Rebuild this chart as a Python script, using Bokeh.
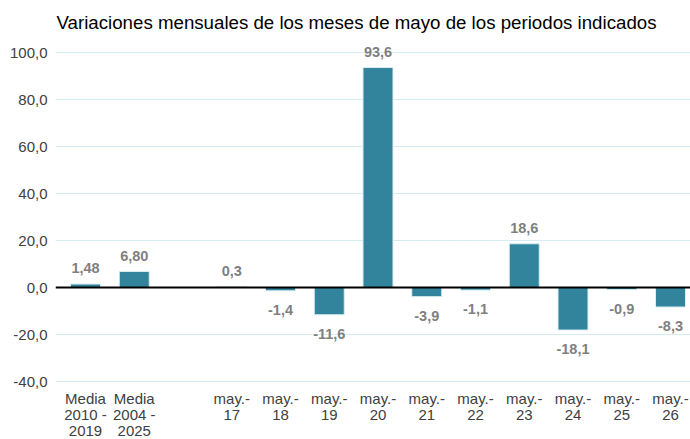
from bokeh.plotting import figure
from bokeh.models import ColumnDataSource, Range1d, FixedTicker, Span
from bokeh.core.properties import value
from bokeh.embed import file_html
from bokeh.resources import INLINE

subtitle = "Variaciones mensuales de los meses de mayo de los periodos indicados"
categories = ["Media\n2010 -\n2019", "Media\n2004 -\n2025", "",
              "may.-\n17", "may.-\n18", "may.-\n19", "may.-\n20", "may.-\n21",
              "may.-\n22", "may.-\n23", "may.-\n24", "may.-\n25", "may.-\n26"]
bar_categories = [c for c in categories if c != ""]
values = [1.48, 6.80, 0.3, -1.4, -11.6, 93.6, -3.9, -1.1, 18.6, -18.1, -0.9, -8.3]
value_labels = ["1,48", "6,80", "0,3", "-1,4", "-11,6", "93,6", "-3,9", "-1,1",
                "18,6", "-18,1", "-0,9", "-8,3"]
y_ticks = [-40, -20, 0, 20, 40, 60, 80, 100]
y_tick_labels = ["-40,0", "-20,0", "0,0", "20,0", "40,0", "60,0", "80,0", "100,0"]

FONT = "Liberation Sans"
W, H = 690, 439
FRAME_LEFT = 55            # px, width of the y-axis border
SLOT_PX = 48.75            # px per category slot
FIRST_CENTER_PX = 85       # px, centre of first slot
Y_MIN, Y_MAX = -40, 100
PX_PER_UNIT = 329 / (Y_MAX - Y_MIN)
Y_TOP = Y_MAX + 52 / PX_PER_UNIT
Y_BOTTOM = Y_MIN - (H - 381) / PX_PER_UNIT
X_START = -(FIRST_CENTER_PX - FRAME_LEFT) / SLOT_PX
X_END = X_START + (W - FRAME_LEFT) / SLOT_PX

idx = {c: i for i, c in enumerate(categories)}
bx = [idx[c] for c in bar_categories]

src = ColumnDataSource(dict(x=bx, top=values))
src_pos = ColumnDataSource(dict(
    x=[i for i, v in zip(bx, values) if v >= 0],
    y=[v for v in values if v >= 0],
    t=[l for l, v in zip(value_labels, values) if v >= 0]))
src_neg = ColumnDataSource(dict(
    x=[i for i, v in zip(bx, values) if v < 0],
    y=[v for v in values if v < 0],
    t=[l for l, v in zip(value_labels, values) if v < 0]))
src_cat = ColumnDataSource(dict(x=list(range(len(categories))),
                                y=[Y_MIN] * len(categories), t=categories))

p = figure(width=W, height=H, x_range=Range1d(X_START, X_END), y_range=Range1d(Y_BOTTOM, Y_TOP),
           output_backend="svg", toolbar_location=None, x_axis_location=None,
           min_border_left=FRAME_LEFT, min_border_right=0, min_border_top=0, min_border_bottom=0)
p.outline_line_color = None

# grid
p.xgrid.grid_line_color = None
p.ygrid.ticker = FixedTicker(ticks=[t for t in y_ticks if t != 0])
p.ygrid.grid_line_color = "#A8D8E8"
p.ygrid.grid_line_dash = "1 1"
p.ygrid.grid_line_width = 1

# bars
p.vbar(x="x", top="top", bottom=0, width=0.615, source=src,
       fill_color="#31849B", line_color="#DAEEF3", line_width=1)

p.add_layout(Span(location=0, dimension="width", line_color="#000000", line_width=2))

# value labels
p.text(x="x", y="y", text="t", source=src_pos, y_offset=-16,
       text_align="center", text_baseline="alphabetic",
       text_font=value(FONT), text_font_size="14.5px",
       text_font_style="bold", text_color="#7F7F7F")
p.text(x="x", y="y", text="t", source=src_neg, y_offset=19,
       text_align="center", text_baseline="alphabetic",
       text_font=value(FONT), text_font_size="14.5px",
       text_font_style="bold", text_color="#7F7F7F")

# category labels
p.text(x="x", y="y", text="t", source=src_cat, y_offset=8,
       text_align="center", text_baseline="top", text_line_height=0.95,
       text_font=value(FONT), text_font_size="15px", text_color="#404040")

# subtitle
p.text(x=[X_START + (356 - FRAME_LEFT) / SLOT_PX], y=[Y_TOP - 22 / PX_PER_UNIT], text=[subtitle],
       text_align="center", text_baseline="middle",
       text_font=value(FONT), text_font_size="18.7px", text_color="#000000")

# y axis
p.yaxis.ticker = FixedTicker(ticks=y_ticks)
p.yaxis.major_label_overrides = {t: l for t, l in zip(y_ticks, y_tick_labels)}
p.yaxis.axis_line_color = None
p.yaxis.major_tick_line_color = None
p.yaxis.minor_tick_line_color = None
p.yaxis.major_tick_out = 0
p.yaxis.major_tick_in = 0
p.yaxis.minor_tick_out = 0
p.yaxis.major_label_text_font = FONT
p.yaxis.major_label_text_font_size = "15px"
p.yaxis.major_label_text_color = "#404040"
p.yaxis.major_label_standoff = 8

open("out.html", "w").write(file_html(p, INLINE))
